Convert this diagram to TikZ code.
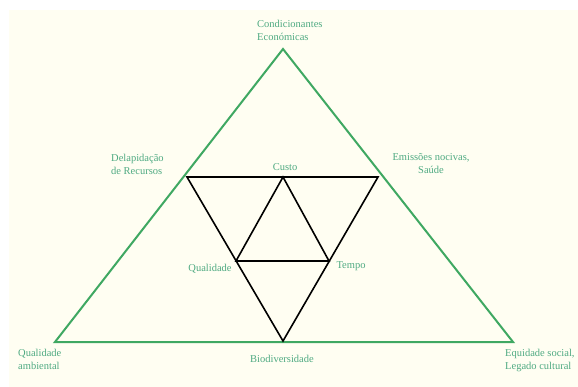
\documentclass[tikz,border=0pt]{standalone}
\usepackage{fontspec}
\setmainfont{Liberation Serif}
\definecolor{bgcream}{HTML}{FFFEF2}
\definecolor{linegreen}{HTML}{3FA862}
\definecolor{textgreen}{HTML}{4FAA82}
\tikzset{
  lbl/.style={text=textgreen, font=\fontsize{10.5}{13.5}\selectfont, inner sep=0pt},
  outer/.style={draw=linegreen, line width=2pt, line join=miter},
  inner/.style={draw=black, line width=1.6pt, line join=miter}
}
\begin{document}
\begin{tikzpicture}[x=1pt,y=-1pt]
\useasboundingbox (0,0) rectangle (578,387);
\fill[white] (0,0) rectangle (578,387);
\fill[bgcream] (9,10) rectangle (578,387);
% outer triangle
\coordinate (A) at (283,49);
\coordinate (B) at (55,342);
\coordinate (C) at (513,342);
\draw[outer] (A) -- (B) -- (C) -- cycle;
% inverted triangle
\coordinate (P) at (187,177);
\coordinate (Q) at (378,177);
\coordinate (R) at (283,341);
\draw[inner] (P) -- (Q) -- (R) -- cycle;
% medial triangle
\coordinate (M1) at (283,177);
\coordinate (M2) at (236,261);
\coordinate (M3) at (329,261);
\draw[inner] (M1) -- (M2) -- (M3) -- cycle;
% labels
\node[lbl, align=left, anchor=north west] (t1) at (257,20) {Condicionantes\\Económicas};
\node[lbl, align=left, anchor=north west] (t2) at (111,154) {Delapidação\\de Recursos};
\node[lbl, align=center, anchor=north] (t3) at (431,153) {Emissões nocivas,\\Saúde};
\node[lbl] (t4) at (285,167) {Custo};
\node[lbl] (t5) at (210,269) {Qualidade};
\node[lbl] (t6) at (351,266) {Tempo};
\node[lbl, align=left, anchor=north west] (t7) at (18,349) {Qualidade\\ambiental};
\node[lbl] (t8) at (282,359) {Biodiversidade};
\node[lbl, align=left, anchor=north west] (t9) at (505,349) {Equidade social,\\Legado cultural};
\end{tikzpicture}
\end{document}
